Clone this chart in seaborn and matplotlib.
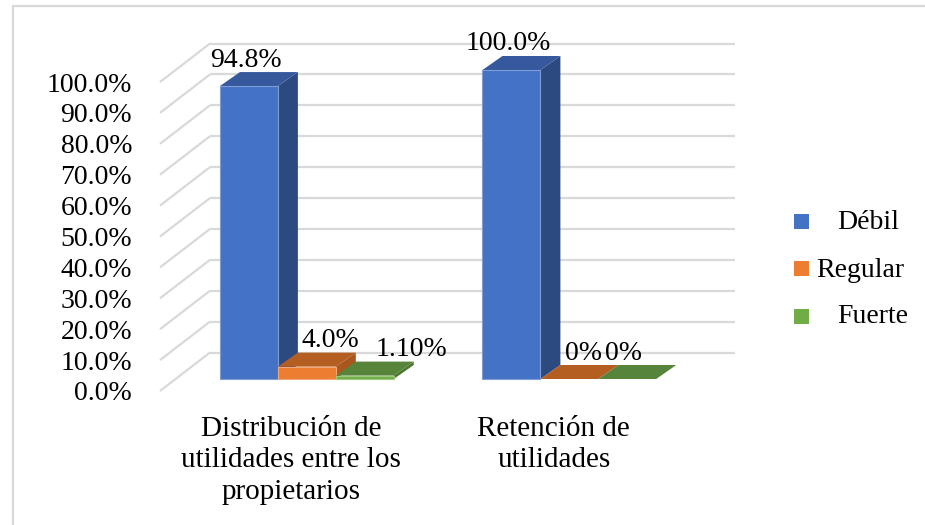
import numpy as np
import pandas as pd
import matplotlib
matplotlib.use("Agg")
import matplotlib.pyplot as plt
import matplotlib.transforms as mtransforms
from matplotlib.patches import Polygon, Rectangle
from matplotlib.lines import Line2D
import seaborn as sns

# ---------------- data ----------------
categories = ["Distribución de\nutilidades entre los\npropietarios",
              "Retención de\nutilidades"]
levels = ["Débil", "Regular", "Fuerte"]
debil = [94.8, 100.0]
regular = [4.0, 0.0]
fuerte = [1.1, 0.0]
value_labels = [["94.8%", "4.0%", "1.10%"],
                ["100.0%", "0%", "0%"]]
y_ticks = [0, 10, 20, 30, 40, 50, 60, 70, 80, 90, 100]

# ---------------- style ----------------
front_col = {"Débil": "#4472C4", "Regular": "#ED7D31", "Fuerte": "#70AD47"}
top_col = {"Débil": "#35599C", "Regular": "#B55E22", "Fuerte": "#56843A"}
side_col = {"Débil": "#2C4A80", "Regular": "#A9561F", "Fuerte": "#4C7632"}
edge_col = {"Débil": "#7E9DD6", "Regular": "#F4A878", "Fuerte": "#9CC97E"}
grid_col = "#D9D9D9"
FS = 20
FSX = 21
FONT = ["Liberation Serif", "DejaVu Serif"]

W, H = 925, 525
sns.set_theme(style="white")
plt.rcParams["font.family"] = FONT

df = pd.DataFrame({
    "Categoria": categories * 3,
    "Nivel": [levels[0]] * 2 + [levels[1]] * 2 + [levels[2]] * 2,
    "Valor": debil + regular + fuerte,
})

fig = plt.figure(figsize=(W / 100, H / 100), dpi=100)
# axes = front plane of the 3-D walls
ax_l, ax_r, ax_t, ax_b = 160, 685, 82, 391
ax = fig.add_axes([ax_l / W, (H - ax_b) / H, (ax_r - ax_l) / W, (ax_b - ax_t) / H])

sns.barplot(data=df, x="Categoria", y="Valor", hue="Nivel", order=categories,
            hue_order=levels, palette=front_col, saturation=1, width=0.662,
            ax=ax, legend=False, linewidth=0, errorbar=None)

ax.set_xlim(-0.5, 1.5)
ax.set_ylim(0, 100)
ax.set_xlabel("")
ax.set_ylabel("")
for s in ax.spines.values():
    s.set_visible(False)
ax.set_facecolor("none")

pxx = (ax_r - ax_l) / 2.0       # pixels per x unit
pxy = (ax_b - ax_t) / 100.0     # pixels per y unit


def d(dx, dy):
    return dx / pxx, dy / pxy


# depth vectors in pixels
WALL = (50, 38.5)
BF = (15.6, 12.0)
BB = (35.6, 26.0)

# back wall gridlines and left wall diagonals
wx, wy = d(*WALL)
for t in y_ticks:
    ax.plot([-0.5 + wx, 1.5 + wx], [t + wy, t + wy], color=grid_col, lw=1.6,
            zorder=0.5, clip_on=False, solid_capstyle="butt")
    ax.plot([-0.5, -0.5 + wx], [t, t + wy], color=grid_col, lw=1.6,
            zorder=0.5, clip_on=False, solid_capstyle="butt")

# 3-D bars from seaborn's rectangles
bars = [p for p in ax.patches if isinstance(p, Rectangle)]
bars = sorted(bars, key=lambda p: p.get_x())
fdx, fdy = d(*BF)
bdx, bdy = d(*BB)
front_tr = mtransforms.offset_copy(ax.transData, fig=fig, x=BF[0], y=BF[1], units="dots")

label_dx = [[-3, 24, 47], [-3, 14, -4]]

for i, p in enumerate(bars):
    x0 = p.get_x()
    x1 = x0 + p.get_width()
    h = p.get_height()
    ci = int(round(x0 + p.get_width() / 2))
    li = i % 3
    lev = levels[li]
    p.set_transform(front_tr)
    p.set_clip_on(False)
    p.set_zorder(3 + 2 * i)
    if h > 0:
        p.set_edgecolor(edge_col[lev])
        p.set_linewidth(0.8)
    side = Polygon([(x1 + fdx, fdy), (x1 + bdx, bdy), (x1 + bdx, h + bdy), (x1 + fdx, h + fdy)],
                   closed=True, facecolor=side_col[lev], edgecolor="none",
                   zorder=2 + 2 * i, clip_on=False)
    top = Polygon([(x0 + fdx, h + fdy), (x0 + bdx, h + bdy), (x1 + bdx, h + bdy), (x1 + fdx, h + fdy)],
                  closed=True, facecolor=top_col[lev], edgecolor="none",
                  zorder=2 + 2 * i, clip_on=False)
    ax.add_patch(side)
    ax.add_patch(top)
    ax.annotate(value_labels[ci][li], xy=((x0 + x1) / 2, h), xycoords="data",
                xytext=(BF[0] + label_dx[ci][li], BF[1] + 26), textcoords="offset pixels",
                ha="center", va="center", fontsize=FS, color="black", zorder=30,
                annotation_clip=False)

# ticks
ax.set_yticks(y_ticks)
ax.set_yticklabels([f"{t:.1f}%" for t in y_ticks])
ax.set_xticks([0, 1])
ax.set_xticklabels(categories)
ax.tick_params(axis="y", length=0, pad=20, labelsize=FS, labelcolor="black")
ax.tick_params(axis="x", length=0, pad=18, labelsize=FSX, labelcolor="black")
for lab in ax.get_xticklabels():
    lab.set_horizontalalignment("center")
    lab.set_multialignment("center")
    lab.set_linespacing(1.27)

# legend (manual, Excel-like)
leg_y_marker = [221, 268, 316]
leg_y_base = [229, 277, 323]
leg_x_text = [837, 816, 837]
for k, lev in enumerate(levels):
    fig.add_artist(Rectangle(((801 - 7.5) / W, (H - leg_y_marker[k] - 7.5) / H), 15 / W, 15 / H,
                             transform=fig.transFigure, facecolor=front_col[lev],
                             edgecolor="none"))
    fig.text(leg_x_text[k] / W, (H - leg_y_base[k]) / H, lev, ha="left", va="baseline",
             fontsize=FS, color="black")

# chart border
fig.add_artist(Line2D([13 / W, 13 / W], [0, (H - 6) / H], color=grid_col, lw=1.6,
                      transform=fig.transFigure))
fig.add_artist(Line2D([13 / W, 1], [(H - 6) / H, (H - 6) / H], color=grid_col, lw=1.6,
                      transform=fig.transFigure))

fig.savefig("out.png", dpi=100, facecolor="white")
